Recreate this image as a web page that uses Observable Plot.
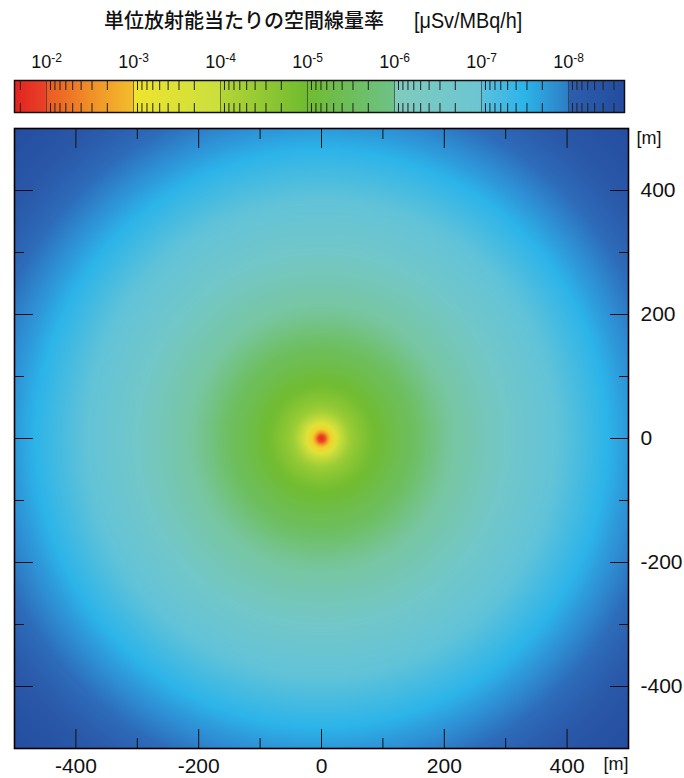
<!DOCTYPE html>
<html>
<head>
<meta charset="utf-8">
<script src="https://cdn.jsdelivr.net/npm/d3@7"></script>
<script src="https://cdn.jsdelivr.net/npm/@observablehq/plot@0.6"></script>
<style>
  body { margin: 0; background: #fff; }
  #chart { position: relative; width: 684px; height: 778px; overflow: hidden; font-family: "Liberation Sans", Arial, sans-serif; }
  #legend { position: absolute; left: 0; top: 0; }
  #map { position: absolute; left: 0; top: 120px; }
  #title { position: absolute; left: 104px; top: 8px; font-family: "Noto Sans CJK JP", sans-serif; font-size: 20px; line-height: 24px; font-weight: 500; color: #111; white-space: nowrap; }
  #title .unit { display: inline-block; margin-left: 30px; font-family: "Liberation Sans", Arial, sans-serif; font-weight: 400; font-size: 22.5px; transform: scaleX(0.88); transform-origin: left center; }
</style>
</head>
<body>
<div id="chart">
  <div id="legend"></div>
  <div id="map"></div>
  <div id="title">単位放射能当たりの空間線量率<span class="unit">[μSv/MBq/h]</span></div>
</div>
<script>
// Radial profile of the dose rate per unit activity: distance from the source [m]
// and log10 of the air dose rate [μSv/MBq/h].
const radiusM = [0, 3, 6, 10, 15, 22, 33, 45, 60, 80, 100, 130, 160, 200, 250, 300, 350, 400, 450, 500, 550, 600, 650, 710];
const doseLog = [-1.65, -1.8, -2.0, -2.6, -3.0, -3.4, -4.0, -4.35, -4.6, -4.9, -5.1, -5.4, -5.6, -5.9, -6.2, -6.5, -6.8, -7.1, -7.4, -7.7, -7.95, -8.2, -8.4, -8.6];

// Colour bar: one gradient per decade (log10 values, ascending) and its colours.
const stopLog = [-8.644, -8.0001, -8, -7.5, -7.0001, -7, -6.0001, -6, -5.5, -5.0001, -5, -4.0001, -4, -3.0001, -3, -2.5, -2.0001, -2, -1.632];
const stopColor = ["#244c9e", "#2d5fae", "#2e7ec5", "#2cb4e9", "#5cc0de", "#6bc5d2", "#80cbbd", "#6ec287", "#6dbe5c", "#70bc32", "#6fbb30", "#b5d636", "#cadf3e", "#f0e42e", "#f4be2c", "#f08f27", "#eb5924", "#e8432a", "#e3241f"];

// The map blends across the decade joins.
const mapStopLog = [-8.644, -8.3, -8, -7.75, -7.5, -7, -6.5, -6, -5.5, -5, -4.5, -4, -3.5, -3, -2.5, -2, -1.632];
const mapStopColor = ["#244c9e", "#2a58a8", "#2d6cba", "#2e92d6", "#2cb4e9", "#62c3d8", "#72c7c8", "#77c6a4", "#6dbe5c", "#70bc32", "#92c934", "#c0da3a", "#e0e237", "#f2d12d", "#f08f27", "#ea5025", "#e3241f"];

// Colour bar extent and its decade labels (exponents of ten).
const barHigh = -1.632;
const barLow = -8.644;
const decades = [-2, -3, -4, -5, -6, -7, -8];

// Map axis ticks [m].
const majorTicks = [-400, -200, 0, 200, 400];
const minorTicks = [-500, -300, -100, 100, 300, 500];

// Minor ticks of the colour bar: 2..9 × 10^n.
const barMinor = [];
for (let n = -9; n <= -2; n++) {
  for (let k = 2; k <= 9; k++) {
    const v = n + Math.log10(k);
    if (v >= barLow && v <= barHigh) barMinor.push(v);
  }
}

const profile = d3.scaleLinear().domain(radiusM).range(doseLog).clamp(true);

// Colour bar with decade labels.
const legend = Plot.plot({
  width: 684, height: 120,
  marginLeft: 14, marginRight: 60, marginTop: 80, marginBottom: 8,
  x: { domain: [barHigh, barLow], axis: null },
  y: { domain: [0, 1], axis: null },
  color: { type: "linear", domain: stopLog, range: stopColor, interpolate: "rgb", clamp: true },
  style: { fontFamily: "'Liberation Sans', Arial, sans-serif", color: "#111", background: "transparent" },
  marks: [
    Plot.raster({ fill: (x) => x, x1: barLow, x2: barHigh, y1: 0, y2: 1, pixelSize: 1 }),
    Plot.ruleX(decades, { x: (d) => d, stroke: "#333", strokeOpacity: 0.65 }),
    Plot.axisX(barMinor, { anchor: "top", tickSize: 9, dy: 9, fill: "none", stroke: "#222", label: null }),
    Plot.axisX(barMinor, { anchor: "bottom", tickSize: 9, dy: -9, fill: "none", stroke: "#222", label: null }),
    Plot.text(decades, { x: (d) => d, frameAnchor: "top", dy: -25, text: (d) => String(d), fontSize: 18, fill: "#111" }),
    Plot.frame({ stroke: "#111", strokeWidth: 1.5 })
  ]
});

// Write the decade labels as 10 with a raised exponent.
d3.select(legend).selectAll("text").each(function () {
  const exp = this.textContent;
  const t = d3.select(this).text("");
  t.append("tspan").text("10");
  t.append("tspan").attr("dy", "-0.5em").attr("font-size", "12px").text(exp);
});
document.getElementById("legend").append(legend);

// Dose-rate map around the point source.
const fmt = (d) => String(d);
const map = Plot.plot({
  width: 684, height: 658,
  marginLeft: 14, marginRight: 56, marginTop: 8, marginBottom: 30,
  x: { domain: [-500, 500], axis: null },
  y: { domain: [-500, 500], axis: null },
  color: { type: "linear", domain: mapStopLog, range: mapStopColor, interpolate: "rgb", clamp: true },
  style: { fontFamily: "'Liberation Sans', Arial, sans-serif", color: "#111", background: "transparent" },
  marks: [
    Plot.raster({ fill: (x, y) => profile(Math.hypot(x, y)), x1: -500, x2: 500, y1: -500, y2: 500, pixelSize: 1 }),
    // inward ticks on all four sides
    Plot.axisX(majorTicks, { anchor: "bottom", tickSize: 19, dy: -19, fill: "none", label: null }),
    Plot.axisX(minorTicks, { anchor: "bottom", tickSize: 10, dy: -10, fill: "none", label: null }),
    Plot.axisX(majorTicks, { anchor: "top", tickSize: 19, dy: 19, fill: "none", label: null }),
    Plot.axisX(minorTicks, { anchor: "top", tickSize: 10, dy: 10, fill: "none", label: null }),
    Plot.axisY(majorTicks, { anchor: "right", tickSize: 19, dx: -19, fill: "none", label: null }),
    Plot.axisY(minorTicks, { anchor: "right", tickSize: 10, dx: -10, fill: "none", label: null }),
    Plot.axisY(majorTicks, { anchor: "left", tickSize: 19, dx: 19, fill: "none", label: null }),
    Plot.axisY(minorTicks, { anchor: "left", tickSize: 10, dx: 10, fill: "none", label: null }),
    // tick labels
    Plot.axisX(majorTicks, { anchor: "bottom", tickSize: 0, tickPadding: 10, tickFormat: fmt, fontSize: 21, label: null }),
    Plot.axisY(majorTicks, { anchor: "right", tickSize: 0, tickPadding: 12, tickFormat: fmt, fontSize: 21, label: null }),
    Plot.text(["[m]"], { frameAnchor: "top-right", dx: 8, dy: 3, textAnchor: "start", fontSize: 18, fill: "#111" }),
    Plot.text(["[m]"], { frameAnchor: "bottom-right", dx: 0, dy: 21, textAnchor: "end", fontSize: 18, fill: "#111" }),
    Plot.frame({ stroke: "#000", strokeWidth: 1.6 })
  ]
});
document.getElementById("map").append(map);
</script>
</body>
</html>
